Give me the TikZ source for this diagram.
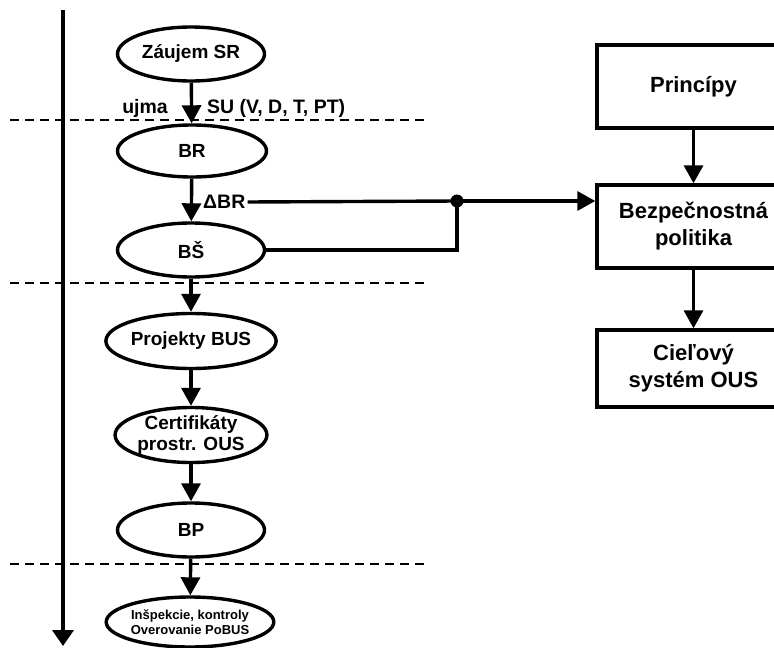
\documentclass[tikz,border=0pt]{standalone}
\usepackage{fontspec}
\setmainfont{Liberation Sans}
\usetikzlibrary{shapes.geometric,arrows.meta}
\begin{document}
\begin{tikzpicture}[x=1pt,y=-1pt,
  ell/.style={ellipse,draw,line width=3.4pt,minimum width=147pt,minimum height=54pt,inner sep=0pt,font=\fontsize{19}{21}\selectfont\bfseries,align=center},
  box/.style={rectangle,draw,line width=3.4pt,minimum width=193pt,inner sep=0pt,font=\fontsize{22}{27}\selectfont\bfseries,align=center},
  arr/.style={line width=3.4pt,-{Triangle[width=19pt,length=18pt]}},
  lbl/.style={font=\fontsize{19.5}{22}\selectfont\bfseries,inner sep=0pt},
  sep/.style={line width=2pt,dash pattern=on 9pt off 6pt},
  conn/.style={line width=3.4pt}]
\useasboundingbox (0,0) rectangle (774,648);
\clip (0,0) rectangle (774,648);
\fill[white] (0,0) rectangle (774,648);

% time axis
\coordinate (tl0) at (63,10);
\coordinate (tl1) at (63,646);
\draw[line width=3.6pt,-{Triangle[width=21pt,length=16pt]}] (tl0) -- (tl1);

% dashed separators
\foreach \n/\y in {a/120,b/283,c/564}{
  \coordinate (s\n0) at (10,\y);
  \coordinate (s\n1) at (425,\y);
  \draw[sep] (s\n0) -- (s\n1);
}

% left column
\node[ell] (zs) at (191,54) {Záujem SR};
\node[ell,minimum width=149pt,minimum height=52pt] (br) at (192,151) {BR};
\node[ell] (bs) at (191,250) {BŠ};
\node[ell,minimum height=55pt] (pb) at (191,341) {Projekty BUS};
\node[ell,minimum height=55pt] (cert) at (191,435) {Certifikáty\\prostr. OUS};
\node[ell] (bp) at (191,530) {BP};
\node[ell,minimum width=146pt,minimum height=50pt,font=\fontsize{13}{15}\selectfont\bfseries] (insp) at (190,622) {Inšpekcie, kontroly\\Overovanie PoBUS};

\draw[arr] (zs) -- (br);
\draw[arr] (br) -- (bs);
\draw[arr] (bs) -- (pb);
\draw[arr] (pb) -- (cert);
\draw[arr] (cert) -- (bp);
\draw[arr] (bp) -- (insp);

\node[lbl,anchor=east] (ujma) at (168,108) {ujma};
\node[lbl,anchor=west] (su) at (207,108) {SU (V, D, T, PT)};
\node[lbl,anchor=west,inner xsep=2pt] (dbr) at (201,202) {ΔBR};

% right column
\node[box,minimum height=83pt] (princ) at (693.5,86.5) {Princípy};
\node[box,minimum height=83pt] (bezp) at (693.5,226.5) {Bezpečnostná\\politika};
\node[box,minimum height=77pt] (ciel) at (693.5,368.5) {Cieľový\\systém OUS};

\draw[arr] (princ) -- (bezp);
\draw[arr] (bezp) -- (ciel);

% junction
\node[circle,fill,inner sep=0pt,minimum size=13pt] (dot) at (457,201) {};
\draw[conn] (dbr.east) -- (dot.center);
\draw[conn] (bs.east) -| (dot.center);
\draw[arr] (dot.center) -- (dot -| bezp.west);
\end{tikzpicture}
\end{document}
